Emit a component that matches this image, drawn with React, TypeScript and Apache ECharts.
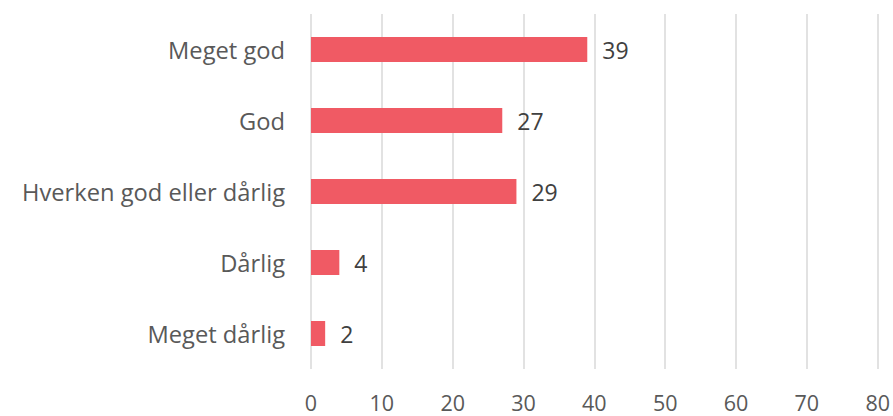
import React, { useEffect, useRef } from "react";
import * as echarts from "echarts";

const categories = ["Meget god", "God", "Hverken god eller dårlig", "Dårlig", "Meget dårlig"];
const values = [39, 27, 29, 4, 2];
const xMin = 0;
const xMax = 80;
const xInterval = 10;

export default function App() {
  const ref = useRef<HTMLDivElement>(null);
  useEffect(() => {
    if (!ref.current) return;
    const chart = echarts.init(ref.current, null, { renderer: "svg" });
    chart.setOption({
      animation: false,
      textStyle: { fontFamily: "Open Sans" },
      grid: { left: 311, right: 14, top: 14, bottom: 47, containLabel: false },
      xAxis: {
        type: "value",
        min: xMin,
        max: xMax,
        interval: xInterval,
        axisLine: { show: false },
        axisTick: { show: false },
        splitLine: { show: true, lineStyle: { color: "#D9D9D9", width: 1.5 } },
        axisLabel: { color: "#595959", fontSize: 21.5, lineHeight: 21, margin: 23, fontFamily: "Open Sans" },
      },
      yAxis: {
        type: "category",
        inverse: true,
        data: categories,
        axisLine: { show: false },
        axisTick: { show: false },
        axisLabel: { color: "#595959", fontSize: 23.7, margin: 26, fontFamily: "Open Sans" },
      },
      series: [
        {
          type: "bar",
          data: values,
          barWidth: 25,
          itemStyle: { color: "#F05A64" },
          label: {
            show: true,
            position: "right",
            distance: 15,
            color: "#404040",
            fontSize: 23,
            fontFamily: "Open Sans",
          },
        },
      ],
    });
    return () => chart.dispose();
  }, []);
  return <div ref={ref} style={{ width: 893, height: 416, position: "absolute", left: 0, top: 0 }} />;
}
